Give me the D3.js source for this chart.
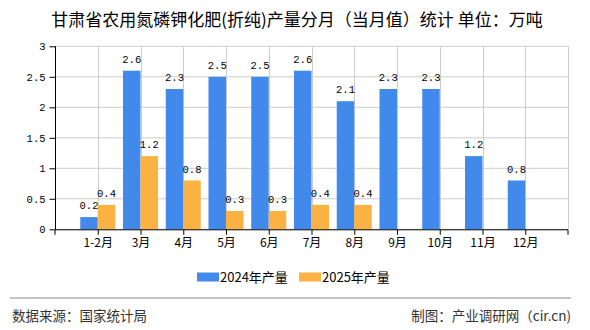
<!DOCTYPE html>
<html><head><meta charset="utf-8">
<script src="https://cdn.jsdelivr.net/npm/d3@7"></script>
<style>body{margin:0;background:#fff}</style>
</head><body>
<script>
const categories = ["1-2月","3月","4月","5月","6月","7月","8月","9月","10月","11月","12月"];
const values2024 = [0.2,2.6,2.3,2.5,2.5,2.6,2.1,2.3,2.3,1.2,0.8];
const values2025 = [0.4,1.2,0.8,0.3,0.3,0.4,0.4,null,null,null,null];
const yTicks = [0,0.5,1,1.5,2,2.5,3];
const seriesNames = ["2024年产量","2025年产量"];
const colors = ["#418AEB","#FBB243"];
const title = "甘肃省农用氮磷钾化肥(折纯)产量分月（当月值）统计  单位：万吨";

const W=590,H=330;
const svg=d3.select("body").append("svg").attr("width",W).attr("height",H);
const x=d3.scalePoint().domain(categories).range([55,568]).padding(1);
const y=d3.scaleLinear().domain([0,3]).range([229.3,46.3]);
const numFont='"Liberation Mono","DejaVu Sans Mono",monospace';
const cjk='"Noto Sans CJK SC",sans-serif';

svg.append("text").attr("x",297).attr("y",25.5).attr("text-anchor","middle")
  .attr("font-family",cjk).attr("font-size",17).attr("fill","#000").text(title);

// grid
const g=svg.append("g");
g.selectAll(".hg").data(yTicks).join("line")
  .attr("x1",55).attr("x2",568).attr("y1",d=>y(d)).attr("y2",d=>y(d))
  .attr("stroke","#cccccc").attr("stroke-width",1);
const vpos=categories.map(c=>x(c)).concat([568]);
g.selectAll(".vg").data(vpos).join("line")
  .attr("x1",d=>Math.round(d)+0.5).attr("x2",d=>Math.round(d)+0.5).attr("y1",y(3)).attr("y2",y(0))
  .attr("stroke","#cccccc").attr("stroke-width",1);

// bars
const bw=17.5;
const series=[values2024,values2025];
series.forEach((vals,si)=>{
  const data=categories.map((c,i)=>({c,v:vals[i]})).filter(d=>d.v!=null);
  svg.append("g").selectAll("rect").data(data).join("rect")
    .attr("x",d=>x(d.c)+(si===0?-bw:0)).attr("width",bw)
    .attr("y",d=>y(d.v)).attr("height",d=>y(0)-y(d.v)).attr("fill",colors[si]);
  svg.append("g").selectAll("text").data(data).join("text")
    .attr("x",d=>x(d.c)+(si===0?-bw/2:bw/2)).attr("y",d=>y(d.v)-8)
    .attr("text-anchor","middle").attr("font-family",numFont).attr("font-size",10.5)
    .attr("fill","#000").text(d=>d.v);
});

// y axis
const yAxis=d3.axisLeft(y).tickValues(yTicks).tickSize(6).tickPadding(4).tickFormat(d=>d);
const ya=svg.append("g").attr("transform","translate(55.5,0)").call(yAxis);
ya.select(".domain").attr("d",`M0,${y(3)}V${y(0)}`).attr("stroke","#000");
ya.selectAll("text").attr("font-family",numFont).attr("font-size",10.5).attr("fill","#000");
ya.selectAll(".tick line").attr("stroke","#000");

// x axis
const xa=svg.append("g").attr("transform",`translate(0,${y(0)+0.5})`)
  .call(d3.axisBottom(x).tickSize(5).tickPadding(4));
xa.select(".domain").attr("d","M55,0H568").attr("stroke","#000");
xa.selectAll("text").attr("font-family",cjk).attr("font-size",12).attr("fill","#000");
xa.selectAll(".tick line").attr("stroke","#000");
xa.append("line").attr("x1",568).attr("x2",568).attr("y1",0).attr("y2",5).attr("stroke","#000");
xa.append("line").attr("x1",55).attr("x2",55).attr("y1",0).attr("y2",5).attr("stroke","#000");

// legend
const lg=svg.append("g");
const lx=[197,299];
seriesNames.forEach((n,i)=>{
  lg.append("rect").attr("x",lx[i]).attr("y",272.5).attr("width",22).attr("height",9).attr("fill",colors[i]);
  lg.append("text").attr("x",lx[i]+23).attr("y",282).attr("font-family",cjk).attr("font-size",13).attr("fill","#000").text(n);
});

// footer
svg.append("line").attr("x1",10).attr("x2",571).attr("y1",298).attr("y2",298).attr("stroke","#888").attr("stroke-width",1);
svg.append("text").attr("x",12).attr("y",321).attr("font-family",cjk).attr("font-size",13.5).attr("fill","#333").text("数据来源：国家统计局");
svg.append("text").attr("x",571).attr("y",321).attr("text-anchor","end").attr("font-family",cjk).attr("font-size",13.5).attr("fill","#333").text("制图：产业调研网（cir.cn)");
</script>
</body></html>
